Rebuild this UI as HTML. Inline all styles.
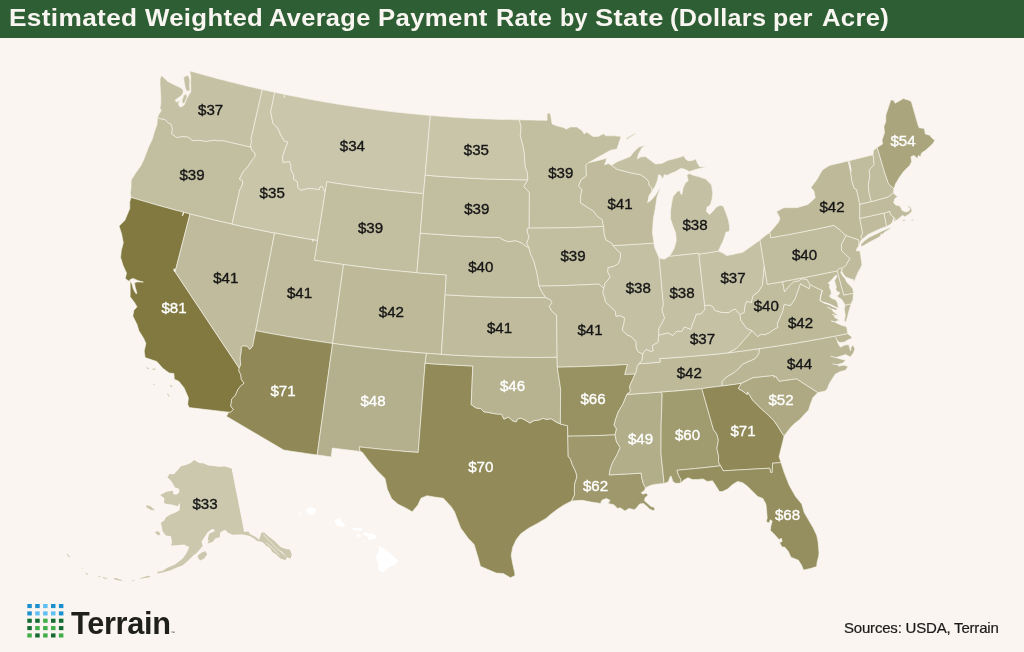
<!DOCTYPE html>
<html><head><meta charset="utf-8"><title>Estimated Weighted Average Payment Rate by State</title>
<style>
html,body{margin:0;padding:0}
body{width:1024px;height:652px;background:#faf5f0;position:relative;overflow:hidden;font-family:"Liberation Sans",sans-serif}
.bar{position:absolute;left:0;top:0;width:1024px;height:37.5px;background:#2e5f34}
.bar h1{margin:0;position:absolute;left:0;top:5.2px;font-size:23.9px;line-height:26px;font-weight:bold;color:#f9f5f1;letter-spacing:0.3px;white-space:pre}
.bar h1 span{position:absolute;top:0;transform-origin:0 0;display:block}
svg.map{position:absolute;left:0;top:0}
svg.map path{stroke:#f6f3ea;stroke-width:0.62;stroke-linejoin:round}
svg.map text{font-family:"Liberation Sans",sans-serif;font-size:15.1px;text-anchor:middle;stroke-width:0.35px}
svg.map text.b{fill:#151515;stroke:#151515}
svg.map text.w{fill:#fff;stroke:#fff}
.src{position:absolute;left:844px;top:619.1px;font-size:15px;line-height:18px;letter-spacing:-0.2px;color:#1a1a1a;-webkit-text-stroke:0.2px #1a1a1a;white-space:nowrap}
.brand{position:absolute;left:71px;top:606.1px;font-size:30.7px;line-height:36px;font-weight:bold;color:#1f1f1b;letter-spacing:-0.3px;white-space:nowrap}
.brand sup{font-size:4px;letter-spacing:0;vertical-align:baseline;font-weight:normal}
</style></head><body>
<div class="bar"><h1><span style="left:8.65px;transform:scaleX(1.0987)">Estimated </span><span style="left:145.0px;transform:scaleX(1.0791)">Weighted </span><span style="left:269.47px;transform:scaleX(1.0638)">Average </span><span style="left:378.38px;transform:scaleX(1.0777)">Payment </span><span style="left:495.91px;transform:scaleX(1.0594)">Rate </span><span style="left:560.03px;transform:scaleX(0.9811)">by </span><span style="left:595.14px;transform:scaleX(1.1466)">State </span><span style="left:670.18px;transform:scaleX(1.0535)">(Dollars </span><span style="left:773.44px;transform:scaleX(1.0417)">per </span><span style="left:821.96px;transform:scaleX(1.0744)">Acre) </span></h1></div>
<svg class="map" width="1024" height="652" viewBox="0 0 1024 652">
<path d="M157.5,117.3L159.1,113.9L161.3,110.5L159.9,108.0L160.8,104.1L160.9,100.1L160.7,93.9L160.0,85.0L160.1,78.7L161.6,75.4L167.5,81.3L174.0,84.7L180.0,87.4L183.0,89.6L183.2,92.5L181.5,95.5L178.0,98.0L175.0,100.3L176.5,102.0L180.5,100.5L178.3,103.5L179.5,106.5L181.5,107.0L184.5,104.5L186.0,100.0L188.5,95.5L190.9,91.5L190.6,84.0L190.8,76.0L189.6,70.9L194.4,72.2L199.2,73.6L204.0,74.9L208.9,76.3L213.7,77.6L218.5,78.9L223.4,80.1L228.2,81.4L233.1,82.6L237.9,83.8L242.8,85.0L247.7,86.2L252.5,87.3L257.4,88.4L262.3,89.5L251.1,138.6L251.5,142.3L250.6,145.1L250.9,147.2L246.3,146.2L241.7,145.1L237.1,144.1L232.5,143.0L227.9,141.9L223.4,140.7L218.8,141.0L214.0,140.2L205.8,141.6L199.7,140.4L192.5,140.7L188.4,137.3L182.9,136.6L176.9,137.6L171.5,134.0L172.2,129.1L171.3,124.7L167.6,122.6L165.0,119.6L160.2,118.9L157.5,117.3ZM183.6,78.0L185.0,76.2L188.3,75.2L189.8,80.0L189.6,86.0L190.0,90.6L187.0,91.2L185.4,88.5L184.4,83.0ZM183.8,95.2L186.6,93.8L187.0,97.5L185.0,102.3L182.6,104.0L182.0,100.5Z" fill="#c5c1a5"/>
<path d="M157.5,117.3L160.2,118.9L165.0,119.6L167.6,122.6L171.3,124.7L172.2,129.1L171.5,134.0L176.9,137.6L182.9,136.6L188.4,137.3L192.5,140.7L199.7,140.4L205.8,141.6L214.0,140.2L218.8,141.0L223.4,140.7L227.9,141.9L232.5,143.0L237.1,144.1L241.7,145.1L246.3,146.2L250.9,147.2L252.1,150.5L254.8,153.1L255.3,156.3L252.7,159.3L250.6,162.5L247.4,167.3L243.7,170.9L239.4,179.0L242.6,181.0L242.5,184.2L240.9,188.1L239.9,189.3L232.0,224.1L226.8,222.9L221.5,221.7L216.2,220.5L211.0,219.2L205.7,217.9L200.5,216.6L195.2,215.3L190.0,214.0L184.6,212.6L179.2,211.1L173.9,209.7L168.5,208.2L163.1,206.7L157.7,205.2L152.4,203.7L147.0,202.1L141.7,200.6L136.4,199.0L131.0,197.4L130.3,193.0L131.0,188.0L131.2,180.0L136.3,172.0L140.7,166.1L143.7,159.8L148.3,147.7L152.5,138.7L154.3,132.0L157.0,124.6L157.5,117.3Z" fill="#c2bea0"/>
<path d="M131.0,197.4L136.4,199.0L141.7,200.6L147.0,202.1L152.4,203.7L157.7,205.2L163.1,206.7L168.5,208.2L173.9,209.7L179.2,211.1L184.6,212.6L190.0,214.0L175.1,271.8L239.1,368.0L238.9,371.0L240.7,374.4L241.4,379.6L244.1,383.2L241.0,385.6L238.2,389.1L235.2,395.6L231.7,399.0L230.8,406.3L233.5,409.5L230.4,412.3L228.8,412.2L189.2,407.6L187.7,404.4L188.4,397.8L184.0,387.7L178.8,381.3L174.3,379.2L173.9,373.6L169.1,372.9L162.7,368.2L156.9,361.6L145.1,357.6L144.2,351.1L145.9,343.4L143.6,338.2L138.9,330.8L137.0,324.5L132.8,316.1L133.9,310.2L137.0,306.9L134.8,303.0L130.1,296.7L130.2,290.5L130.1,280.9L132.0,284.0L133.3,289.0L135.8,293.4L137.0,293.4L135.2,287.2L134.5,282.8L137.0,281.9L143.3,282.1L140.1,281.2L137.0,280.2L133.3,278.4L130.1,279.6L129.6,281.6L125.3,278.7L126.5,272.9L123.1,265.6L120.6,257.6L121.3,250.5L123.3,242.8L121.6,234.0L119.1,226.1L124.8,220.4L127.1,214.9L129.8,208.4L129.7,202.1L131.0,197.4ZM146.6,367.6L148.8,368.0L148.6,368.9L146.8,368.6ZM152.6,368.5L155.4,369.0L155.2,369.9L152.8,369.5ZM153.3,384.0L154.5,384.2L154.4,384.9L153.3,384.7ZM170.5,384.8L172.3,386.8L171.8,387.3L170.2,385.5ZM167.8,393.6L169.4,396.2L168.8,396.5L167.4,394.2Z" fill="#817940"/>
<path d="M190.0,214.0L195.2,215.3L200.5,216.6L205.7,217.9L211.0,219.2L216.2,220.5L221.5,221.7L226.8,222.9L232.0,224.1L237.3,225.3L242.6,226.5L248.0,227.6L253.3,228.7L258.6,229.8L263.9,230.9L269.3,232.0L274.6,233.0L255.7,330.7L252.7,346.3L249.7,349.4L247.1,346.3L243.1,345.9L241.3,347.1L241.3,351.2L240.2,358.1L240.7,364.9L239.1,368.0L175.1,271.8L190.0,214.0Z" fill="#bfbb9c"/>
<path d="M262.3,89.5L266.5,90.5L270.7,91.4L274.8,92.3L270.7,111.8L272.8,122.8L274.7,125.2L277.6,127.8L280.9,135.1L284.5,141.2L287.8,141.9L285.0,149.4L282.5,156.9L283.1,162.4L289.6,161.5L291.0,165.6L290.9,169.6L294.0,175.8L293.4,179.1L297.2,181.4L298.1,188.0L300.6,190.2L307.3,188.6L313.7,188.7L316.5,189.2L319.2,189.6L320.1,186.6L322.5,186.7L325.2,192.2L317.5,240.5L312.1,239.7L306.7,238.8L301.4,237.9L296.0,236.9L290.7,236.0L285.3,235.0L280.0,234.0L274.6,233.0L269.3,232.0L263.9,230.9L258.6,229.8L253.3,228.7L248.0,227.6L242.6,226.5L237.3,225.3L232.0,224.1L239.9,189.3L240.9,188.1L242.5,184.2L242.6,181.0L239.4,179.0L243.7,170.9L247.4,167.3L250.6,162.5L252.7,159.3L255.3,156.3L254.8,153.1L252.1,150.5L250.9,147.2L250.6,145.1L251.5,142.3L251.1,138.6L262.3,89.5Z" fill="#c8c5a9"/>
<path d="M274.8,92.3L280.0,93.4L285.1,94.4L290.2,95.5L295.4,96.5L300.5,97.5L305.7,98.5L310.8,99.4L316.0,100.4L321.1,101.3L326.3,102.2L331.5,103.1L336.6,103.9L341.8,104.7L347.0,105.5L352.2,106.3L357.4,107.1L362.6,107.8L367.7,108.5L372.9,109.2L378.1,109.9L383.3,110.6L388.5,111.2L393.7,111.8L399.0,112.4L404.2,112.9L409.4,113.5L414.6,114.0L419.8,114.5L425.0,115.0L430.3,115.4L425.2,175.2L423.5,193.6L418.1,193.2L412.7,192.7L407.3,192.2L401.9,191.6L396.5,191.1L391.2,190.5L385.8,189.9L380.4,189.3L375.1,188.6L369.7,188.0L364.3,187.3L359.0,186.6L353.6,185.8L348.2,185.1L342.9,184.3L337.5,183.5L332.2,182.7L326.9,181.8L325.2,192.2L322.5,186.7L320.1,186.6L319.2,189.6L316.5,189.2L313.7,188.7L307.3,188.6L300.6,190.2L298.1,188.0L297.2,181.4L293.4,179.1L294.0,175.8L290.9,169.6L291.0,165.6L289.6,161.5L283.1,162.4L282.5,156.9L285.0,149.4L287.8,141.9L284.5,141.2L280.9,135.1L277.6,127.8L274.7,125.2L272.8,122.8L270.7,111.8L274.8,92.3Z" fill="#c9c6ac"/>
<path d="M325.2,192.2L326.9,181.8L332.2,182.7L337.5,183.5L342.9,184.3L348.2,185.1L353.6,185.8L359.0,186.6L364.3,187.3L369.7,188.0L375.1,188.6L380.4,189.3L385.8,189.9L391.2,190.5L396.5,191.1L401.9,191.6L407.3,192.2L412.7,192.7L418.1,193.2L423.5,193.6L420.3,233.1L416.9,272.7L411.2,272.2L405.6,271.7L399.9,271.1L394.3,270.6L388.6,270.0L383.0,269.4L377.3,268.8L371.7,268.1L366.1,267.4L360.4,266.7L354.8,266.0L349.2,265.3L343.5,264.5L337.7,263.7L331.9,262.8L326.0,262.0L320.2,261.1L314.3,260.2L317.5,240.5L325.2,192.2Z" fill="#c2bea0"/>
<path d="M274.6,233.0L280.0,234.0L285.3,235.0L290.7,236.0L296.0,236.9L301.4,237.9L306.7,238.8L312.1,239.7L317.5,240.5L314.3,260.2L320.2,261.1L326.0,262.0L331.9,262.8L337.7,263.7L343.5,264.5L332.6,343.4L326.7,342.6L320.8,341.7L314.8,340.8L308.9,339.9L303.0,339.0L297.0,338.0L291.1,337.1L285.2,336.1L279.3,335.0L273.4,334.0L267.5,332.9L261.6,331.8L255.7,330.7L274.6,233.0Z" fill="#bfbb9c"/>
<path d="M255.7,330.7L261.6,331.8L267.5,332.9L273.4,334.0L279.3,335.0L285.2,336.1L291.1,337.1L297.0,338.0L303.0,339.0L308.9,339.9L314.8,340.8L320.8,341.7L326.7,342.6L332.6,343.4L317.2,455.0L311.6,454.2L306.0,453.4L300.4,452.6L294.9,451.8L289.3,450.9L283.7,450.0L226.4,416.3L228.8,412.2L230.4,412.3L233.5,409.5L230.8,406.3L231.7,399.0L235.2,395.6L238.2,389.1L241.0,385.6L244.1,383.2L241.4,379.6L240.7,374.4L238.9,371.0L239.1,368.0L240.7,364.9L240.2,358.1L241.3,351.2L241.3,347.1L243.1,345.9L247.1,346.3L249.7,349.4L252.7,346.3L255.7,330.7Z" fill="#908957"/>
<path d="M343.5,264.5L349.2,265.3L354.8,266.0L360.4,266.7L366.1,267.4L371.7,268.1L377.3,268.8L383.0,269.4L388.6,270.0L394.3,270.6L399.9,271.1L405.6,271.7L411.2,272.2L416.9,272.7L422.8,273.2L428.7,273.6L434.6,274.1L440.5,274.5L446.3,274.9L445.1,294.7L441.4,354.4L436.5,354.0L431.5,353.7L426.5,353.3L420.6,352.9L414.7,352.4L408.9,351.9L403.0,351.4L397.1,350.9L391.2,350.3L385.4,349.7L379.5,349.1L373.6,348.5L367.8,347.8L361.9,347.2L356.0,346.4L350.2,345.7L344.3,345.0L338.5,344.2L332.6,343.4L343.5,264.5Z" fill="#bdb999"/>
<path d="M332.6,343.4L338.5,344.2L344.3,345.0L350.2,345.7L356.0,346.4L361.9,347.2L367.8,347.8L373.6,348.5L379.5,349.1L385.4,349.7L391.2,350.3L397.1,350.9L403.0,351.4L408.9,351.9L414.7,352.4L420.6,352.9L426.5,353.3L425.1,363.2L418.2,452.4L411.6,451.9L405.1,451.4L398.5,450.8L391.9,450.2L385.4,449.6L378.8,449.0L372.3,448.3L365.7,447.6L359.2,446.9L360.2,451.4L354.6,450.8L349.0,450.1L343.5,449.4L337.9,448.7L332.3,448.0L331.2,456.9L326.5,456.3L321.9,455.6L317.2,455.0L332.6,343.4Z" fill="#b4af8c"/>
<path d="M425.1,363.2L431.1,363.7L437.0,364.1L443.0,364.4L449.0,364.8L454.9,365.1L460.9,365.4L466.8,365.7L472.8,366.0L471.2,404.6L475.9,407.9L480.7,408.5L483.8,411.8L487.9,412.3L493.5,413.5L497.5,414.0L501.6,414.1L503.9,419.1L508.5,417.0L512.0,420.5L516.1,421.9L517.7,418.9L521.0,418.0L525.8,420.4L529.9,423.0L534.0,420.6L538.9,420.0L542.9,418.4L547.0,419.4L551.0,418.6L556.0,421.9L560.4,424.0L567.6,425.7L567.8,436.2L568.2,456.4L570.6,459.3L572.1,464.3L575.9,472.1L576.9,477.0L574.6,484.0L574.4,489.9L574.5,494.9L571.7,500.9L563.1,505.4L557.1,509.4L551.1,514.0L546.0,518.4L536.5,523.9L528.6,528.2L520.8,533.7L516.3,539.5L512.7,547.3L511.2,555.2L512.5,563.0L514.7,572.8L515.0,575.6L510.5,577.7L503.4,573.6L496.3,573.1L487.4,569.3L480.4,566.2L478.0,557.3L474.1,544.4L468.2,538.3L460.7,528.1L457.6,520.1L454.6,512.1L451.4,507.0L443.3,498.2L434.7,497.1L427.1,495.7L421.0,498.2L417.9,504.9L412.2,511.8L405.6,507.9L398.1,504.3L391.7,498.8L387.4,489.5L385.0,478.4L377.2,470.7L368.9,460.9L362.3,452.2L360.2,451.4L359.2,446.9L365.7,447.6L372.3,448.3L378.8,449.0L385.4,449.6L391.9,450.2L398.5,450.8L405.1,451.4L411.6,451.9L418.2,452.4L425.1,363.2Z" fill="#928b59"/>
<path d="M426.5,353.3L431.5,353.7L436.5,354.0L441.4,354.4L447.5,354.7L453.6,355.1L459.7,355.4L465.8,355.7L471.9,356.0L477.9,356.2L484.0,356.5L490.1,356.7L496.2,356.8L502.3,357.0L508.4,357.1L514.5,357.2L520.6,357.3L526.7,357.3L532.8,357.4L538.9,357.4L544.9,357.3L551.0,357.3L557.1,357.2L557.3,367.2L560.6,389.0L560.4,424.0L556.0,421.9L551.0,418.6L547.0,419.4L542.9,418.4L538.9,420.0L534.0,420.6L529.9,423.0L525.8,420.4L521.0,418.0L517.7,418.9L516.1,421.9L512.0,420.5L508.5,417.0L503.9,419.1L501.6,414.1L497.5,414.0L493.5,413.5L487.9,412.3L483.8,411.8L480.7,408.5L475.9,407.9L471.2,404.6L472.8,366.0L466.8,365.7L460.9,365.4L454.9,365.1L449.0,364.8L443.0,364.4L437.0,364.1L431.1,363.7L425.1,363.2L426.5,353.3Z" fill="#b7b390"/>
<path d="M445.1,294.7L451.0,295.1L456.9,295.4L462.9,295.8L468.8,296.0L474.7,296.3L480.6,296.6L486.6,296.8L492.5,297.0L498.4,297.1L504.4,297.3L510.3,297.4L516.3,297.5L522.2,297.6L528.1,297.6L534.1,297.6L540.0,297.6L545.9,297.6L550.6,299.9L552.1,302.5L549.2,306.5L552.2,311.5L556.7,315.2L557.1,357.2L551.0,357.3L544.9,357.3L538.9,357.4L532.8,357.4L526.7,357.3L520.6,357.3L514.5,357.2L508.4,357.1L502.3,357.0L496.2,356.8L490.1,356.7L484.0,356.5L477.9,356.2L471.9,356.0L465.8,355.7L459.7,355.4L453.6,355.1L447.5,354.7L441.4,354.4L445.1,294.7Z" fill="#bfbb9c"/>
<path d="M420.3,233.1L425.9,233.6L431.6,234.0L437.3,234.4L442.9,234.8L448.6,235.2L454.3,235.6L460.0,235.9L465.6,236.2L471.3,236.5L477.0,236.7L482.7,237.0L488.4,237.2L494.1,237.4L499.7,237.5L502.6,239.6L508.3,241.7L515.5,240.6L521.2,242.7L525.5,245.9L529.1,248.1L530.5,253.9L534.1,261.8L536.6,271.8L537.8,277.7L538.6,282.7L539.0,286.1L542.3,292.6L545.9,297.6L540.0,297.6L534.1,297.6L528.1,297.6L522.2,297.6L516.3,297.5L510.3,297.4L504.4,297.3L498.4,297.1L492.5,297.0L486.6,296.8L480.6,296.6L474.7,296.3L468.8,296.0L462.9,295.8L456.9,295.4L451.0,295.1L445.1,294.7L446.3,274.9L440.5,274.5L434.6,274.1L428.7,273.6L422.8,273.2L416.9,272.7L420.3,233.1Z" fill="#c0bc9e"/>
<path d="M425.2,175.2L430.6,175.6L436.0,176.1L441.4,176.5L446.8,176.8L452.2,177.2L457.6,177.5L463.0,177.8L468.4,178.1L473.8,178.4L479.2,178.6L484.6,178.9L490.0,179.1L495.4,179.2L500.8,179.4L506.3,179.5L511.7,179.6L517.1,179.7L522.5,179.8L527.9,179.8L523.9,186.5L529.4,192.5L529.2,228.1L527.0,229.0L527.7,233.0L529.1,237.0L526.7,242.9L529.1,248.1L525.5,245.9L521.2,242.7L515.5,240.6L508.3,241.7L502.6,239.6L499.7,237.5L494.1,237.4L488.4,237.2L482.7,237.0L477.0,236.7L471.3,236.5L465.6,236.2L460.0,235.9L454.3,235.6L448.6,235.2L442.9,234.8L437.3,234.4L431.6,234.0L425.9,233.6L420.3,233.1L423.5,193.6L425.2,175.2Z" fill="#c2bea0"/>
<path d="M430.3,115.4L435.2,115.8L440.1,116.2L445.1,116.6L450.0,117.0L455.0,117.3L460.0,117.6L464.9,117.9L469.9,118.2L474.8,118.4L479.8,118.6L484.7,118.9L489.7,119.0L494.7,119.2L499.6,119.4L504.6,119.5L509.6,119.6L514.5,119.7L519.5,119.8L521.1,127.6L520.3,135.4L522.9,145.2L524.4,153.1L524.8,160.9L525.4,166.8L527.4,172.7L527.9,179.8L522.5,179.8L517.1,179.7L511.7,179.6L506.3,179.5L500.8,179.4L495.4,179.2L490.0,179.1L484.6,178.9L479.2,178.6L473.8,178.4L468.4,178.1L463.0,177.8L457.6,177.5L452.2,177.2L446.8,176.8L441.4,176.5L436.0,176.1L430.6,175.6L425.2,175.2L430.3,115.4Z" fill="#c8c5a9"/>
<path d="M519.5,119.8L524.1,119.9L528.7,120.0L533.3,120.1L537.9,120.2L542.5,120.3L547.1,120.3L547.1,113.2L550.3,113.2L552.1,123.9L556.5,125.8L564.1,127.7L566.0,129.2L570.4,127.0L573.5,127.0L576.7,127.0L582.3,130.8L584.2,134.0L586.7,132.1L593.0,136.5L598.0,136.5L603.7,133.7L605.6,135.8L614.4,135.8L621.1,136.5L616.9,149.1L610.6,150.3L598.0,157.2L588.5,162.8L586.0,164.7L586.4,176.1L580.9,179.9L578.7,185.9L582.0,189.7L580.8,195.7L580.3,202.6L587.5,207.3L593.3,211.0L597.2,216.2L602.2,219.5L603.6,226.4L598.3,226.6L593.0,226.9L587.7,227.1L582.4,227.3L577.1,227.4L571.7,227.6L566.4,227.7L561.1,227.8L555.8,227.9L550.5,228.0L545.2,228.0L539.8,228.1L534.5,228.1L529.2,228.1L529.4,192.5L523.9,186.5L527.9,179.8L527.4,172.7L525.4,166.8L524.8,160.9L524.4,153.1L522.9,145.2L520.3,135.4L521.1,127.6L519.5,119.8Z" fill="#c2bea0"/>
<path d="M529.2,228.1L534.5,228.1L539.8,228.1L545.2,228.0L550.5,228.0L555.8,227.9L561.1,227.8L566.4,227.7L571.7,227.6L577.1,227.4L582.4,227.3L587.7,227.1L593.0,226.9L598.3,226.6L603.6,226.4L604.3,234.3L606.1,240.1L612.0,243.2L613.0,245.5L616.7,249.5L620.6,253.2L620.3,258.8L618.3,263.7L613.3,266.6L608.2,267.5L607.7,271.9L610.2,276.7L608.1,279.8L604.9,283.4L603.8,288.4L599.0,284.1L593.5,284.3L588.1,284.6L582.6,284.9L577.2,285.1L571.7,285.3L566.3,285.5L560.8,285.6L555.4,285.8L549.9,285.9L544.5,286.0L539.0,286.1L538.6,282.7L537.8,277.7L536.6,271.8L534.1,261.8L530.5,253.9L529.1,248.1L526.7,242.9L529.1,237.0L527.7,233.0L527.0,229.0L529.2,228.1Z" fill="#c2bea0"/>
<path d="M539.0,286.1L544.5,286.0L549.9,285.9L555.4,285.8L560.8,285.6L566.3,285.5L571.7,285.3L577.2,285.1L582.6,284.9L588.1,284.6L593.5,284.3L599.0,284.1L603.8,288.4L602.8,293.0L604.5,297.3L605.5,301.9L610.2,306.6L615.3,311.3L616.1,316.3L620.1,315.6L624.5,317.8L624.1,322.8L622.2,329.9L627.1,335.0L630.8,336.3L636.1,341.4L636.2,348.0L638.3,351.8L642.7,353.9L642.1,360.5L638.9,363.7L637.0,366.9L636.5,370.9L635.1,374.0L629.8,374.3L624.6,374.6L627.4,364.5L621.6,364.8L615.7,365.2L609.9,365.5L604.1,365.7L598.2,366.0L592.4,366.2L586.5,366.4L580.7,366.6L574.8,366.8L569.0,366.9L563.1,367.1L557.3,367.2L557.1,357.2L556.7,315.2L552.2,311.5L549.2,306.5L552.1,302.5L550.6,299.9L545.9,297.6L542.3,292.6L539.0,286.1Z" fill="#bfbb9c"/>
<path d="M557.3,367.2L563.1,367.1L569.0,366.9L574.8,366.8L580.7,366.6L586.5,366.4L592.4,366.2L598.2,366.0L604.1,365.7L609.9,365.5L615.7,365.2L621.6,364.8L627.4,364.5L624.6,374.6L629.8,374.3L635.1,374.0L632.4,380.1L629.6,386.3L630.4,391.6L626.9,394.4L622.9,404.2L618.2,411.9L616.1,417.9L614.0,425.0L616.5,428.9L615.0,434.9L609.1,435.1L603.2,435.4L597.3,435.5L591.4,435.7L585.5,435.9L579.6,436.0L573.7,436.1L567.8,436.2L567.6,425.7L560.4,424.0L560.6,389.0L557.3,367.2Z" fill="#989262"/>
<path d="M567.8,436.2L573.7,436.1L579.6,436.0L585.5,435.9L591.4,435.7L597.3,435.5L603.2,435.4L609.1,435.1L615.0,434.9L616.5,441.8L620.1,447.5L617.1,454.6L612.5,462.8L610.3,468.9L609.2,474.9L615.6,474.6L622.0,474.2L628.4,473.9L634.8,473.5L641.2,473.1L641.8,478.0L643.3,483.5L645.5,487.9L644.2,490.8L641.2,492.7L642.7,494.2L646.5,493.0L647.8,495.5L645.0,497.7L644.6,500.9L647.8,503.4L650.9,506.5L654.1,507.2L654.9,510.1L652.8,510.6L649.6,509.1L646.5,505.9L643.4,503.4L639.6,504.0L637.1,507.2L634.6,509.7L628.9,508.4L625.1,510.9L620.1,507.8L617.6,508.4L613.8,504.7L608.1,503.4L610.0,500.3L606.3,498.4L601.8,500.3L600.6,503.4L591.2,502.1L582.4,500.3L577.0,500.6L571.7,500.9L574.5,494.9L574.4,489.9L574.6,484.0L576.9,477.0L575.9,472.1L572.1,464.3L570.6,459.3L568.2,456.4L567.8,436.2Z" fill="#9e986c"/>
<path d="M626.9,394.4L632.5,394.1L638.0,393.7L643.6,393.3L649.2,392.9L654.8,392.5L660.4,392.0L662.2,393.9L661.1,425.9L661.0,453.8L664.1,483.4L659.1,483.9L654.1,484.5L649.5,485.8L645.5,487.9L643.3,483.5L641.8,478.0L641.2,473.1L634.8,473.5L628.4,473.9L622.0,474.2L615.6,474.6L609.2,474.9L610.3,468.9L612.5,462.8L617.1,454.6L620.1,447.5L616.5,441.8L615.0,434.9L616.5,428.9L614.0,425.0L616.1,417.9L618.2,411.9L622.9,404.2L626.9,394.4Z" fill="#b2ae89"/>
<path d="M660.4,392.0L666.3,391.6L672.2,391.1L678.1,390.7L684.1,390.1L690.0,389.6L695.9,389.1L701.8,388.5L713.4,429.4L716.9,434.3L718.4,440.2L716.9,448.3L718.6,456.1L718.5,462.1L720.6,465.8L714.4,466.5L708.1,467.2L701.9,467.9L695.7,468.5L689.5,469.1L683.2,469.7L677.0,470.3L678.5,475.2L681.0,479.6L681.0,482.7L679.2,483.3L675.4,483.3L672.9,481.4L671.2,476.2L670.2,476.6L668.5,481.4L666.6,482.6L664.1,483.4L661.0,453.8L661.1,425.9L662.2,393.9L660.4,392.0Z" fill="#a19c70"/>
<path d="M638.9,363.7L644.2,363.4L649.6,363.0L655.0,362.5L660.3,362.1L659.7,358.6L665.8,358.2L672.0,357.8L678.1,357.3L684.3,356.9L689.8,356.5L695.3,356.0L700.8,355.5L706.3,355.0L711.8,354.5L717.4,354.0L722.9,353.4L728.4,352.8L734.6,352.0L740.8,351.2L747.0,350.4L753.2,349.5L759.4,348.6L759.0,353.5L755.0,358.8L746.8,362.4L742.3,364.4L739.5,368.0L733.8,372.8L726.3,377.2L722.1,381.7L722.3,385.9L717.1,386.6L712.0,387.2L706.9,387.9L701.8,388.5L695.9,389.1L690.0,389.6L684.1,390.1L678.1,390.7L672.2,391.1L666.3,391.6L660.4,392.0L654.8,392.5L649.2,392.9L643.6,393.3L638.0,393.7L632.5,394.1L626.9,394.4L630.4,391.6L629.6,386.3L632.4,380.1L635.1,374.0L636.5,370.9L637.0,366.9L638.9,363.7Z" fill="#bdb999"/>
<path d="M642.7,353.9L646.0,349.3L650.8,351.3L653.1,350.7L652.2,345.4L657.9,342.3L658.5,336.3L660.3,334.5L664.1,333.8L667.9,332.8L672.8,335.4L677.0,331.0L681.7,331.5L684.3,326.9L690.8,329.2L692.5,323.6L694.4,319.8L696.3,314.0L700.6,314.1L704.7,309.6L704.7,305.6L709.5,305.0L712.8,306.6L714.8,310.4L722.0,312.5L728.9,312.6L732.4,310.1L735.3,309.1L740.1,314.6L740.7,320.0L743.6,324.0L746.6,328.2L752.1,330.6L747.7,336.1L742.3,341.9L740.3,344.6L736.1,348.8L728.4,352.8L722.9,353.4L717.4,354.0L711.8,354.5L706.3,355.0L700.8,355.5L695.3,356.0L689.8,356.5L684.3,356.9L678.1,357.3L672.0,357.8L665.8,358.2L659.7,358.6L660.3,362.1L655.0,362.5L649.6,363.0L644.2,363.4L638.9,363.7L642.1,360.5L642.7,353.9Z" fill="#c5c1a5"/>
<path d="M613.0,245.5L618.1,245.3L623.2,245.0L628.4,244.7L633.5,244.4L638.6,244.1L643.7,243.7L648.8,243.4L654.0,243.0L654.3,246.8L658.0,255.4L659.2,258.1L663.4,304.9L662.0,310.0L664.6,318.1L661.7,323.8L659.0,328.2L658.5,336.3L657.9,342.3L652.2,345.4L653.1,350.7L650.8,351.3L646.0,349.3L642.7,353.9L638.3,351.8L636.2,348.0L636.1,341.4L630.8,336.3L627.1,335.0L622.2,329.9L624.1,322.8L624.5,317.8L620.1,315.6L616.1,316.3L615.3,311.3L610.2,306.6L605.5,301.9L604.5,297.3L602.8,293.0L603.8,288.4L604.9,283.4L608.1,279.8L610.2,276.7L607.7,271.9L608.2,267.5L613.3,266.6L618.3,263.7L620.3,258.8L620.6,253.2L616.7,249.5L613.0,245.5Z" fill="#c3c0a3"/>
<path d="M588.5,162.8L596.4,160.9L603.9,159.0L606.5,158.0L605.8,161.5L604.5,164.7L608.3,163.6L611.5,165.2L616.5,169.1L630.3,172.8L640.4,174.7L645.4,177.9L648.6,181.6L649.2,185.4L651.7,187.9L652.0,191.3L649.1,195.5L647.6,202.6L651.0,200.3L655.4,195.3L660.9,186.5L657.0,196.8L655.2,208.9L653.3,219.0L652.4,233.0L654.0,243.0L648.8,243.4L643.7,243.7L638.6,244.1L633.5,244.4L628.4,244.7L623.2,245.0L618.1,245.3L613.0,245.5L612.0,243.2L606.1,240.1L604.3,234.3L603.6,226.4L602.2,219.5L597.2,216.2L593.3,211.0L587.5,207.3L580.3,202.6L580.8,195.7L582.0,189.7L578.7,185.9L580.9,179.9L586.4,176.1L586.0,164.7L588.5,162.8Z" fill="#bfbb9c"/>
<path d="M659.2,258.1L664.2,259.2L669.5,256.1L674.3,255.7L679.2,255.2L684.1,254.6L688.9,254.1L693.8,253.6L698.6,253.0L698.9,254.2L704.7,305.6L704.7,309.6L700.6,314.1L696.3,314.0L694.4,319.8L692.5,323.6L690.8,329.2L684.3,326.9L681.7,331.5L677.0,331.0L672.8,335.4L667.9,332.8L664.1,333.8L660.3,334.5L658.5,336.3L659.0,328.2L661.7,323.8L664.6,318.1L662.0,310.0L663.4,304.9L659.2,258.1Z" fill="#c3c0a3"/>
<path d="M698.9,254.2L703.8,253.4L708.7,252.7L713.6,251.9L718.4,251.1L722.8,253.0L726.6,255.5L731.6,254.8L736.6,253.6L742.9,252.3L748.0,248.6L754.2,244.2L760.0,239.9L764.3,266.2L763.7,271.8L763.2,277.9L762.4,285.5L758.1,292.2L753.2,295.6L751.3,302.7L746.8,301.4L745.0,306.3L744.3,312.4L740.1,314.6L735.3,309.1L732.4,310.1L728.9,312.6L722.0,312.5L714.8,310.4L712.8,306.6L709.5,305.0L704.7,305.6L698.9,254.2Z" fill="#c5c1a5"/>
<path d="M669.5,256.1L672.5,251.5L674.4,247.9L676.3,240.4L675.6,232.8L673.1,226.5L670.6,219.0L670.6,210.2L671.8,202.6L673.1,196.4L677.5,191.3L680.0,190.7L680.7,193.8L681.9,194.5L683.2,187.5L685.7,182.5L688.2,180.8L686.9,175.3L689.4,173.5L693.2,175.3L698.2,176.6L705.8,179.1L711.5,185.0L712.7,192.6L712.1,198.9L710.2,205.2L707.1,207.0L706.4,211.4L709.6,214.6L712.7,211.4L716.5,207.0L720.3,205.2L723.4,206.4L725.9,212.7L728.5,220.3L729.7,227.8L729.1,231.6L725.9,232.2L724.7,236.6L722.8,241.6L720.3,246.7L718.4,251.1L713.6,251.9L708.7,252.7L703.8,253.4L698.9,254.2L698.6,253.0L693.8,253.6L688.9,254.1L684.1,254.6L679.2,255.2L674.3,255.7L669.5,256.1ZM625.9,138.6L634.9,133.2L635.3,134.0L627.0,139.4Z" fill="#c3c0a3"/>
<path d="M611.5,165.2L617.7,161.5L624.0,159.0L630.3,156.5L634.1,151.4L639.1,147.0L645.4,145.2L641.6,148.3L638.5,154.0L637.2,159.0L640.4,157.1L645.4,156.5L650.4,160.3L655.5,164.0L658.7,163.7L661.8,163.4L668.1,160.3L675.6,158.4L684.4,155.8L685.0,158.4L688.2,160.9L693.2,160.3L695.7,159.0L697.6,163.4L699.5,166.5L705.8,167.2L699.5,168.4L693.2,170.3L689.4,171.6L684.4,169.1L680.6,168.4L675.6,171.6L670.6,173.5L667.4,175.3L664.3,174.7L662.8,179.1L660.5,175.3L658.6,174.7L657.4,180.4L655.5,185.4L652.0,191.3L651.7,187.9L649.2,185.4L648.6,181.6L645.4,177.9L640.4,174.7L630.3,172.8L616.5,169.1L611.5,165.2Z" fill="#c3c0a3"/>
<path d="M701.8,388.5L706.9,387.9L712.0,387.2L717.1,386.6L722.3,385.9L727.1,385.2L731.9,384.6L736.7,383.9L741.5,383.2L738.3,388.6L742.7,391.1L747.2,394.4L747.6,391.9L752.6,400.1L761.4,408.9L767.7,414.5L774.0,420.8L778.4,427.1L782.2,433.4L784.1,435.9L782.8,441.6L780.9,449.1L779.1,456.7L781.0,462.6L772.6,463.2L772.2,472.4L770.6,472.4L769.7,468.2L723.2,470.8L720.6,465.8L718.5,462.1L718.6,456.1L716.9,448.3L718.4,440.2L716.9,434.3L713.4,429.4L701.8,388.5Z" fill="#908957"/>
<path d="M720.6,465.8L723.2,470.8L769.7,468.2L770.6,472.4L772.2,472.4L772.6,463.2L781.0,462.6L784.2,472.6L789.2,485.2L795.5,496.5L801.8,504.1L804.2,512.5L808.6,520.1L813.0,527.6L816.7,535.2L818.0,541.4L819.0,552.8L818.6,556.5L817.0,562.8L816.7,566.6L810.4,568.5L803.5,570.1L801.6,565.3L798.5,560.3L794.1,558.4L790.9,557.2L788.4,551.5L784.7,547.1L782.1,547.1L779.6,542.7L782.1,541.4L781.5,538.3L779.0,539.6L774.0,533.9L770.3,530.5L771.0,525.5L772.2,521.1L770.3,519.8L769.1,523.0L766.3,521.7L767.2,517.9L766.6,510.4L765.9,504.1L762.8,498.4L757.8,496.5L752.7,491.5L747.7,486.5L742.7,482.7L737.6,481.4L732.6,484.6L727.6,489.0L722.5,491.5L719.4,491.5L716.3,486.5L712.5,480.8L707.4,481.4L703.0,478.9L697.4,479.6L692.4,479.6L688.0,477.7L683.5,480.2L681.0,482.7L681.0,479.6L678.5,475.2L677.0,470.3L683.2,469.7L689.5,469.1L695.7,468.5L701.9,467.9L708.1,467.2L714.4,466.5L720.6,465.8Z" fill="#958e5e"/>
<path d="M741.5,383.2L753.0,377.6L773.8,375.4L774.1,377.4L775.7,376.1L779.0,381.2L784.8,380.4L790.6,379.6L796.4,378.7L817.9,392.6L813.0,397.5L810.5,403.8L808.6,410.1L804.2,414.5L799.8,419.6L794.8,423.3L790.4,427.7L786.0,433.4L784.1,435.9L782.2,433.4L778.4,427.1L774.0,420.8L767.7,414.5L761.4,408.9L752.6,400.1L747.6,391.9L747.2,394.4L742.7,391.1L738.3,388.6L741.5,383.2Z" fill="#aea982"/>
<path d="M759.4,348.6L765.3,347.8L771.2,346.9L777.1,346.0L783.0,345.1L788.9,344.2L794.8,343.3L800.7,342.3L806.5,341.3L812.4,340.2L818.3,339.2L824.2,338.1L830.0,337.0L835.9,335.9L841.7,334.8L847.6,333.6L849.2,335.0L851.8,336.9L851.1,338.8L848.0,339.8L844.2,342.2L839.8,342.6L837.3,340.7L837.9,343.2L840.4,347.2L844.2,345.3L848.6,344.5L850.5,350.8L851.1,347.0L853.0,345.1L854.9,348.9L853.6,352.6L850.5,357.0L845.5,354.5L841.7,355.8L836.0,357.6L840.4,358.9L845.5,360.2L843.0,363.0L837.3,364.6L838.6,366.1L844.2,365.2L848.0,366.5L845.5,370.3L840.4,371.5L835.4,374.0L832.9,377.8L829.1,384.1L827.2,388.9L825.3,391.0L821.6,391.8L817.9,392.6L796.4,378.7L790.6,379.6L784.8,380.4L779.0,381.2L775.7,376.1L774.1,377.4L773.8,375.4L753.0,377.6L741.5,383.2L736.7,383.9L731.9,384.6L727.1,385.2L722.3,385.9L722.1,381.7L726.3,377.2L733.8,372.8L739.5,368.0L742.3,364.4L746.8,362.4L755.0,358.8L759.0,353.5L759.4,348.6Z" fill="#bab695"/>
<path d="M752.1,330.6L757.6,336.6L761.6,334.0L764.4,334.8L769.2,332.8L774.9,328.8L777.8,327.4L777.2,323.8L782.8,310.9L784.0,304.5L790.7,305.5L795.1,298.7L800.3,283.7L809.3,288.7L810.1,284.7L814.0,286.5L818.0,288.5L822.3,290.3L820.8,295.7L820.0,300.5L822.5,302.2L828.8,304.2L834.4,306.8L838.6,308.6L835.9,310.3L832.0,309.2L833.0,311.4L838.4,315.6L834.0,315.6L834.5,317.3L839.3,320.2L836.0,321.2L836.5,323.0L841.5,325.2L846.6,326.7L847.4,331.5L847.6,333.6L841.7,334.8L835.9,335.9L830.0,337.0L824.2,338.1L818.3,339.2L812.4,340.2L806.5,341.3L800.7,342.3L794.8,343.3L788.9,344.2L783.0,345.1L777.1,346.0L771.2,346.9L765.3,347.8L759.4,348.6L753.2,349.5L747.0,350.4L740.8,351.2L734.6,352.0L728.4,352.8L736.1,348.8L740.3,344.6L742.3,341.9L747.7,336.1L752.1,330.6Z" fill="#bdb999"/>
<path d="M845.1,305.1L844.3,309.1L845.3,315.4L844.3,321.1L845.6,322.3L847.2,317.9L849.1,310.4L851.2,303.8L848.2,304.5L845.1,305.1Z" fill="#bdb999"/>
<path d="M740.1,314.6L744.3,312.4L745.0,306.3L746.8,301.4L751.3,302.7L753.2,295.6L758.1,292.2L762.4,285.5L763.2,277.9L763.7,271.8L764.3,266.2L767.3,284.3L772.4,283.4L777.5,282.6L782.7,281.7L784.5,291.9L789.2,286.0L793.7,281.7L799.0,280.7L802.0,278.5L807.2,279.6L810.1,284.7L809.3,288.7L800.3,283.7L795.1,298.7L790.7,305.5L784.0,304.5L782.8,310.9L777.2,323.8L777.8,327.4L774.9,328.8L769.2,332.8L764.4,334.8L761.6,334.0L757.6,336.6L752.1,330.6L746.6,328.2L743.6,324.0L740.7,320.0L740.1,314.6Z" fill="#c0bc9e"/>
<path d="M760.0,239.9L765.4,235.6L769.9,232.4L770.8,237.7L776.1,236.8L781.3,235.8L786.6,234.9L791.9,233.9L797.1,232.9L802.4,231.9L807.6,230.8L812.9,229.8L818.1,228.7L823.3,227.6L828.6,226.5L833.8,225.3L839.1,229.2L846.0,235.6L841.4,244.6L841.6,250.5L843.6,252.7L849.9,258.4L846.0,265.4L842.2,268.3L839.4,268.3L837.1,271.0L831.7,272.2L826.2,273.3L820.8,274.4L815.4,275.5L809.9,276.6L804.5,277.7L799.0,278.7L793.6,279.7L788.1,280.7L782.7,281.7L777.5,282.6L772.4,283.4L767.3,284.3L764.3,266.2L760.0,239.9Z" fill="#c0bc9e"/>
<path d="M769.9,232.4L778.5,222.2L780.0,218.3L776.6,211.5L783.9,207.7L797.0,207.7L808.0,204.4L815.3,197.8L813.9,191.1L811.0,187.6L817.1,179.2L822.3,170.0L829.5,165.4L834.2,164.3L838.9,163.2L843.6,162.1L848.2,161.0L850.4,170.6L851.8,180.4L854.0,188.1L856.5,189.5L859.8,204.2L859.8,218.3L862.6,233.0L860.9,237.4L862.4,239.1L861.2,240.2L860.3,242.3L859.3,244.5L858.6,246.2L858.9,240.0L846.0,235.6L839.1,229.2L833.8,225.3L828.6,226.5L823.3,227.6L818.1,228.7L812.9,229.8L807.6,230.8L802.4,231.9L797.1,232.9L791.9,233.9L786.6,234.9L781.3,235.8L776.1,236.8L770.8,237.7L769.9,232.4ZM860.9,244.4L864.7,240.6L869.7,237.0L876.0,234.0L882.3,231.0L888.6,228.3L891.1,227.2L889.2,229.6L884.8,231.9L882.3,234.4L881.1,233.8L880.4,236.3L876.0,238.8L869.7,242.0L863.4,245.7L861.2,246.6Z" fill="#bdb999"/>
<path d="M846.0,235.6L858.9,240.0L858.6,246.2L857.1,248.2L856.2,250.8L860.0,250.9L862.0,264.8L860.3,268.5L858.3,271.8L855.8,277.4L853.8,282.8L853.3,279.5L850.8,278.9L845.7,277.0L843.2,273.9L841.8,271.5L842.2,268.3L846.0,265.4L849.9,258.4L843.6,252.7L841.6,250.5L841.4,244.6L846.0,235.6Z" fill="#bfbb9c"/>
<path d="M837.1,271.0L839.4,268.3L842.2,268.3L840.8,272.5L842.0,274.9L845.1,278.7L847.0,282.5L850.8,286.2L852.8,288.8L853.5,293.3L848.6,294.3L843.7,295.2L837.1,271.0Z" fill="#bdb999"/>
<path d="M782.7,281.7L788.1,280.7L793.6,279.7L799.0,278.7L804.5,277.7L809.9,276.6L815.4,275.5L820.8,274.4L826.2,273.3L831.7,272.2L837.1,271.0L843.7,295.2L848.6,294.3L853.5,293.3L852.9,299.7L851.2,303.8L848.2,304.5L845.1,305.1L843.4,302.0L841.0,298.8L838.6,297.6L837.2,295.7L839.0,294.4L839.6,292.3L837.4,291.7L835.8,289.4L836.4,286.9L835.4,283.7L834.6,280.6L836.9,276.4L835.9,274.9L832.5,278.9L828.0,283.2L829.9,284.6L829.3,286.9L830.6,290.0L831.3,293.2L829.8,296.2L833.2,299.1L835.7,299.8L837.6,303.2L838.6,308.6L834.4,306.8L828.8,304.2L822.5,302.2L820.0,300.5L820.8,295.7L822.3,290.3L818.0,288.5L814.0,286.5L810.1,284.7L807.2,279.6L802.0,278.5L799.0,280.7L793.7,281.7L789.2,286.0L784.5,291.9L782.7,281.7Z" fill="#bdb999"/>
<path d="M862.4,239.1L860.9,237.4L862.6,233.0L859.8,218.3L864.6,217.3L869.5,216.3L874.3,215.2L879.1,214.1L884.0,213.1L886.6,226.5L882.3,227.9L874.8,231.2L868.5,234.2L862.4,239.1Z" fill="#bfbb9c"/>
<path d="M884.0,213.1L886.6,226.5L890.5,224.3L892.3,222.3L893.4,218.2L894.4,221.5L896.2,220.3L894.1,217.4L891.7,215.7L890.4,213.6L889.8,211.3L886.9,212.2L884.0,213.1Z" fill="#bfbb9c"/>
<path d="M859.8,218.3L859.8,204.2L863.6,203.3L867.4,202.5L871.2,201.6L875.4,200.5L879.6,199.3L883.8,198.2L888.0,197.0L893.3,192.9L894.9,194.5L897.4,196.7L894.9,198.6L893.6,202.4L895.5,204.9L899.9,206.1L902.2,210.5L905.6,212.0L909.0,211.0L910.2,208.6L907.2,205.9L908.5,205.9L911.0,207.6L912.0,211.2L909.0,214.3L904.7,216.8L902.4,215.2L899.3,218.3L897.2,219.8L896.2,220.3L894.1,217.4L891.7,215.7L890.4,213.6L889.8,211.3L886.9,212.2L884.0,213.1L879.1,214.1L874.3,215.2L869.5,216.3L864.6,217.3L859.8,218.3ZM901.8,220.6L904.2,219.6L905.8,220.3L904.0,221.2ZM910.8,220.3L913.5,219.6L914.0,220.5L911.5,221.0Z" fill="#bfbb9c"/>
<path d="M848.2,161.0L853.2,159.7L858.2,158.5L863.2,157.2L868.1,156.0L873.1,154.7L874.2,164.6L869.1,170.0L869.9,175.9L868.4,184.5L869.0,192.5L871.2,201.6L867.4,202.5L863.6,203.3L859.8,204.2L856.5,189.5L854.0,188.1L851.8,180.4L850.4,170.6L848.2,161.0Z" fill="#c0bc9e"/>
<path d="M873.1,154.7L873.4,150.5L877.2,147.4L884.5,172.1L888.6,183.9L893.9,188.6L893.3,192.9L888.0,197.0L883.8,198.2L879.6,199.3L875.4,200.5L871.2,201.6L869.0,192.5L868.4,184.5L869.9,175.9L869.1,170.0L874.2,164.6L873.1,154.7Z" fill="#c0bc9e"/>
<path d="M877.2,147.4L882.6,144.1L882.0,140.3L884.5,132.8L883.9,126.5L885.8,121.4L885.8,115.2L890.8,100.1L893.3,100.1L895.2,103.2L903.4,98.6L910.3,100.7L911.6,102.6L917.9,124.6L919.1,127.7L924.2,128.4L925.4,134.0L929.8,135.3L931.7,137.8L934.8,140.3L933.0,143.5L929.8,146.6L925.4,150.4L921.6,152.9L920.4,156.7L918.5,155.4L917.2,158.6L914.1,155.4L910.9,156.7L911.6,161.7L909.7,165.5L906.5,168.6L903.4,171.8L899.0,178.0L895.5,184.0L893.9,188.6L888.6,183.9L884.5,172.1L877.2,147.4Z" fill="#aba57e"/>
<path d="M231.6,468.5L225.1,466.5L219.1,466.7L213.1,465.9L208.3,465.6L203.6,463.4L202.7,463.3L201.7,463.3L200.8,463.2L199.9,463.1L199.0,463.1L194.2,459.9L190.9,463.1L186.0,465.1L181.1,466.3L178.0,469.7L173.9,474.2L169.6,474.0L167.4,477.3L170.3,479.9L172.9,483.4L175.0,487.6L179.0,488.8L179.4,492.3L176.3,494.7L173.0,493.9L173.2,490.8L166.6,491.8L160.2,495.1L164.5,498.4L163.9,502.8L166.4,504.0L167.5,504.1L168.7,504.2L169.8,504.3L170.9,504.4L172.0,504.5L177.8,506.3L179.4,503.0L180.0,505.2L179.5,510.2L175.6,512.5L170.6,514.5L166.1,517.3L163.8,521.1L160.9,522.7L162.0,527.8L162.7,531.5L165.9,535.5L167.1,535.7L168.4,535.8L169.7,536.0L171.0,536.2L172.0,541.9L171.0,545.6L177.0,545.2L184.2,544.4L187.6,546.4L189.4,546.6L187.4,551.6L185.3,554.9L182.8,558.6L175.1,564.5L166.9,568.1L162.9,570.7L157.1,571.9L157.7,573.4L163.5,572.2L170.6,570.3L176.8,567.5L182.8,565.2L188.8,560.0L192.7,556.0L196.4,553.3L200.1,549.1L202.6,546.0L201.5,541.5L204.9,536.6L207.5,532.4L211.7,529.1L213.7,529.3L215.1,531.0L209.2,533.7L207.7,539.3L208.8,540.7L207.5,543.5L212.4,541.9L215.6,538.2L219.7,537.2L220.3,532.3L225.1,529.7L227.9,532.5L232.5,534.7L237.7,534.6L242.9,534.4L249.7,536.0L254.1,538.5L257.2,541.0L260.4,541.6L263.5,542.7L266.0,545.8L269.8,547.7L272.3,552.1L275.5,554.0L280.5,558.4L285.5,560.3L286.8,557.2L290.6,558.4L291.8,554.7L289.9,549.6L285.5,549.0L280.5,547.1L274.2,540.8L268.6,536.4L264.2,532.4L261.6,532.6L259.1,539.8L255.3,536.8L250.3,534.3L248.4,531.4L243.6,532.0L244.1,531.7ZM207.1,554.6L205.6,551.2L202.7,551.9L198.6,554.7L197.5,556.7L200.1,560.6L203.9,558.8L207.1,554.6ZM159.4,532.3L157.9,531.3L154.6,532.1L158.1,535.6L160.4,534.6L159.4,532.3ZM155.0,510.2L150.8,506.4L146.8,504.9L146.2,507.3L150.9,509.9L155.0,510.2ZM150.6,576.3L149.2,576.0L147.9,575.8L144.1,577.1L139.8,578.3L140.1,578.8L144.9,578.1L148.6,577.6L150.6,576.3ZM134.7,580.4L131.8,580.1L132.0,580.8L134.5,581.0ZM122.4,580.1L121.1,579.7L119.8,579.4L118.5,579.0L117.1,578.6L115.8,578.1L113.1,578.6L116.4,580.0L121.8,580.8ZM107.4,578.2L103.9,577.2L101.8,577.5L102.9,577.9L104.1,578.3L105.2,578.8L107.2,578.8ZM100.1,576.3L98.4,575.8L98.7,577.0L100.2,577.2ZM87.8,573.6L85.2,573.1L86.6,574.4L88.1,574.6ZM83.0,568.3L81.3,567.7L82.0,568.7ZM70.1,557.3L67.3,553.5L66.7,553.8L68.6,557.0Z" fill="#cbc8ae" style="stroke:none"/>
<path d="M379.2,546.1L383.8,548.4L389.4,552.3L393.6,556.6L398.6,560.7L395.1,564.5L389.5,567.1L385.8,569.5L382.5,572.8L378.3,569.5L378.3,564.2L375.3,556.7L378.6,551.8L379.2,546.1ZM363.4,533.4L365.2,531.2L367.6,533.8L371.7,533.0L376.3,536.1L376.4,538.1L373.6,539.1L368.4,540.1L367.4,536.1L363.7,535.2ZM352.2,527.9L357.8,527.9L363.0,528.5L360.6,530.9L353.2,530.1ZM356.9,533.8L360.6,534.4L361.0,536.5L358.4,537.1L356.7,535.8ZM363.4,540.7L366.2,540.3L366.2,541.6L363.7,541.6ZM334.1,520.6L339.7,517.9L343.0,523.0L345.8,525.7L342.8,526.7L337.3,525.9L335.1,522.6ZM315.9,511.1L315.3,509.1L313.6,507.7L311.2,507.1L308.8,507.6L307.0,509.1L306.3,511.0L307.0,513.0L308.7,514.4L311.1,515.0L313.5,514.5L315.3,513.0ZM297.8,514.2L300.6,511.5L301.5,512.3L298.7,515.4Z" fill="#ffffff" style="stroke:none"/>
<path d="M182.5,215.2L183.7,212.6" style="fill:none;stroke:#faf5f0;stroke-width:1.3;stroke-linecap:round;stroke-opacity:1"/>
<path d="M174.2,269.2L174.6,271" style="fill:none;stroke:#faf5f0;stroke-width:1.6;stroke-linecap:round;stroke-opacity:1"/>
<path d="M312.9,239.4L312.9,241.2" style="fill:none;stroke:#faf5f0;stroke-width:1.1;stroke-linecap:round;stroke-opacity:1"/>
<path d="M849.4,161.8L850.2,166L851,171" style="fill:none;stroke:#faf5f0;stroke-width:1.2;stroke-linecap:round;stroke-opacity:1"/>
<path d="M838.6,308.6L834.4,306.8L828.8,304.2L824,302.6" style="fill:none;stroke:#faf5f0;stroke-width:1.3;stroke-linecap:round;stroke-opacity:1"/>
<path d="M824,302.6L820.3,300.6L820.8,295.7L822.3,290.8" style="fill:none;stroke:#faf5f0;stroke-width:0.7;stroke-linecap:round;stroke-opacity:1"/>
<path d="M835.5,310.5L831,309L827.7,307.3" style="fill:none;stroke:#faf5f0;stroke-width:0.9;stroke-linecap:round;stroke-opacity:1"/>
<path d="M838,316L832.5,314.3" style="fill:none;stroke:#faf5f0;stroke-width:0.9;stroke-linecap:round;stroke-opacity:1"/>
<path d="M840,323.5L835,322L831.5,321" style="fill:none;stroke:#faf5f0;stroke-width:1.0;stroke-linecap:round;stroke-opacity:1"/>
<path d="M829.3,295.9L832,298.5" style="fill:none;stroke:#faf5f0;stroke-width:0.8;stroke-linecap:round;stroke-opacity:1"/>
<path d="M836,357.6L831,356.3" style="fill:none;stroke:#faf5f0;stroke-width:0.8;stroke-linecap:round;stroke-opacity:1"/>
<path d="M837.3,364.6L833,364" style="fill:none;stroke:#faf5f0;stroke-width:0.8;stroke-linecap:round;stroke-opacity:1"/>
<path d="M837.3,340.7L835.8,337.5" style="fill:none;stroke:#faf5f0;stroke-width:0.8;stroke-linecap:round;stroke-opacity:1"/>
<path d="M263.8,535L270,541.5L277,548.5L283,553.8" style="fill:none;stroke:#faf5f0;stroke-width:0.7;stroke-linecap:round;stroke-opacity:1"/>
<path d="M266.8,543.2L272,547.5L279,554.8" style="fill:none;stroke:#faf5f0;stroke-width:0.7;stroke-linecap:round;stroke-opacity:1"/>
<path d="M281,551L286,556.5" style="fill:none;stroke:#faf5f0;stroke-width:0.6;stroke-linecap:round;stroke-opacity:1"/>
<path d="M284.6,95.6L284.2,97.4" style="fill:none;stroke:#faf5f0;stroke-width:0.9;stroke-linecap:round;stroke-opacity:1"/>
<path d="M817,569L812.5,576L805,581.5L796,585L787,587.3" style="fill:none;stroke:#faf5f0;stroke-width:0.8;stroke-linecap:round;stroke-opacity:0.0"/>
<text x="210.6" y="115.3" class="b">$37</text>
<text x="192" y="180.2" class="b">$39</text>
<text x="272.2" y="198.2" class="b">$35</text>
<text x="352.4" y="151.2" class="b">$34</text>
<text x="476.4" y="154.5" class="b">$35</text>
<text x="560.75" y="178.4" class="b">$39</text>
<text x="476.75" y="213.9" class="b">$39</text>
<text x="370.5" y="233.2" class="b">$39</text>
<text x="225.75" y="282.7" class="b">$41</text>
<text x="299.5" y="298.2" class="b">$41</text>
<text x="391.4" y="316.7" class="b">$42</text>
<text x="480.75" y="272.2" class="b">$40</text>
<text x="573" y="261.2" class="b">$39</text>
<text x="620" y="208.9" class="b">$41</text>
<text x="695" y="229.7" class="b">$38</text>
<text x="832" y="212.2" class="b">$42</text>
<text x="903" y="145.9" class="w">$54</text>
<text x="804.5" y="259.7" class="b">$40</text>
<text x="733" y="283.4" class="b">$37</text>
<text x="682" y="298.2" class="b">$38</text>
<text x="638.25" y="293.2" class="b">$38</text>
<text x="499.5" y="332.7" class="b">$41</text>
<text x="590" y="335.2" class="b">$41</text>
<text x="702.5" y="343.9" class="b">$37</text>
<text x="766.25" y="311.4" class="b">$40</text>
<text x="800.5" y="328.2" class="b">$42</text>
<text x="799.5" y="369.4" class="b">$44</text>
<text x="689.25" y="378.2" class="b">$42</text>
<text x="174" y="313.2" class="w">$81</text>
<text x="283" y="396.4" class="w">$71</text>
<text x="373" y="406.4" class="w">$48</text>
<text x="512.5" y="391.0" class="w">$46</text>
<text x="593" y="403.7" class="w">$66</text>
<text x="480.75" y="471.9" class="w">$70</text>
<text x="595.5" y="491.4" class="w">$62</text>
<text x="640.5" y="444.4" class="w">$49</text>
<text x="687.5" y="440.2" class="w">$60</text>
<text x="743" y="435.7" class="w">$71</text>
<text x="781" y="404.7" class="w">$52</text>
<text x="787.5" y="519.7" class="w">$68</text>
<text x="205" y="509.4" class="b">$33</text>
<rect x="27.30" y="604.00" width="4.5" height="4.1" fill="#1c8fd0"/><rect x="35.20" y="604.00" width="4.5" height="4.1" fill="#1c8fd0"/><rect x="43.10" y="604.00" width="4.5" height="4.1" fill="#5fbef4"/><rect x="51.00" y="604.00" width="4.5" height="4.1" fill="#1c8fd0"/><rect x="58.90" y="604.00" width="4.5" height="4.1" fill="#1c8fd0"/><rect x="27.30" y="611.35" width="4.5" height="4.1" fill="#1c8fd0"/><rect x="35.20" y="611.35" width="4.5" height="4.1" fill="#5fbef4"/><rect x="43.10" y="611.35" width="4.5" height="4.1" fill="#5fbef4"/><rect x="51.00" y="611.35" width="4.5" height="4.1" fill="#5fbef4"/><rect x="58.90" y="611.35" width="4.5" height="4.1" fill="#1c8fd0"/><rect x="27.30" y="618.70" width="4.5" height="4.1" fill="#146c34"/><rect x="35.20" y="618.70" width="4.5" height="4.1" fill="#146c34"/><rect x="43.10" y="618.70" width="4.5" height="4.1" fill="#40ae49"/><rect x="51.00" y="618.70" width="4.5" height="4.1" fill="#146c34"/><rect x="58.90" y="618.70" width="4.5" height="4.1" fill="#146c34"/><rect x="27.30" y="626.05" width="4.5" height="4.1" fill="#146c34"/><rect x="35.20" y="626.05" width="4.5" height="4.1" fill="#40ae49"/><rect x="43.10" y="626.05" width="4.5" height="4.1" fill="#40ae49"/><rect x="51.00" y="626.05" width="4.5" height="4.1" fill="#40ae49"/><rect x="58.90" y="626.05" width="4.5" height="4.1" fill="#146c34"/><rect x="27.30" y="633.40" width="4.5" height="4.1" fill="#40ae49"/><rect x="35.20" y="633.40" width="4.5" height="4.1" fill="#146c34"/><rect x="43.10" y="633.40" width="4.5" height="4.1" fill="#40ae49"/><rect x="51.00" y="633.40" width="4.5" height="4.1" fill="#146c34"/><rect x="58.90" y="633.40" width="4.5" height="4.1" fill="#40ae49"/>
</svg>
<div class="src">Sources: USDA, Terrain</div>
<div class="brand">Terrain<sup>™</sup></div>
</body></html>
